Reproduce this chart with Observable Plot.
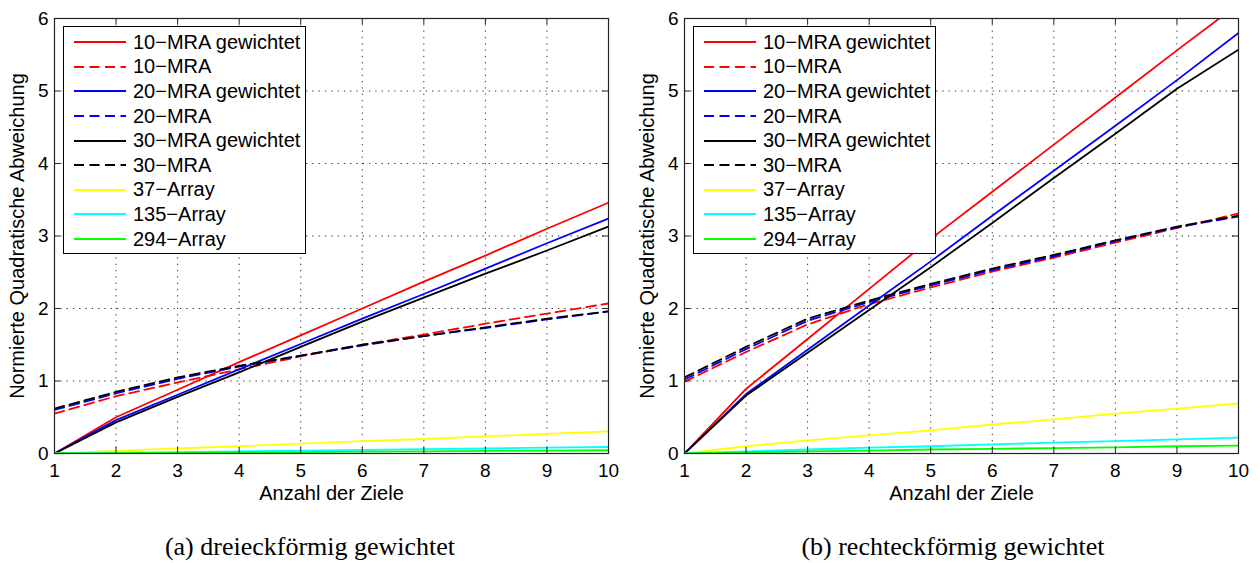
<!DOCTYPE html>
<html>
<head>
<meta charset="utf-8">
<script src="https://cdn.jsdelivr.net/npm/d3@7"></script>
<script src="https://cdn.jsdelivr.net/npm/@observablehq/plot@0.6"></script>
<style>
  html, body { margin: 0; padding: 0; background: #fff; }
  #wrap { position: relative; width: 1260px; height: 563px; overflow: hidden; }
  .panel { position: absolute; top: 0; width: 630px; height: 563px; }
  .legend { position: absolute; background: #fff; border: 1px solid #000; box-sizing: border-box;
            font-family: "Liberation Sans", Arial, sans-serif; font-size: 20px; color: #000; padding-top: 3px; }
  .legend .row { height: 24.6px; display: flex; align-items: center; white-space: nowrap; }
  .legend svg { margin-left: 10px; margin-right: 7px; flex: none; }
  .caption { position: absolute; top: 532px; transform: translateX(-50%); white-space: nowrap;
             font-family: "Liberation Serif", "Times New Roman", serif; font-size: 26px; color: #000; }
</style>
</head>
<body>
<div id="wrap"></div>
<script>
// ---- data ----
const xTicks = [1, 2, 3, 4, 5, 6, 7, 8, 9, 10];
const yTicks = [0, 1, 2, 3, 4, 5, 6];
const seriesNames = ["10−MRA gewichtet", "10−MRA", "20−MRA gewichtet", "20−MRA", "30−MRA gewichtet", "30−MRA", "37−Array", "135−Array", "294−Array"];
const seriesColors = ["#ff0000", "#ff0000", "#0000ff", "#0000ff", "#000000", "#000000", "#ffff00", "#00ffff", "#00ff00"];
const seriesDashed = [false, true, false, true, false, true, false, false, false];
const captions = ["(a)  dreieckförmig gewichtet", "(b)  rechteckförmig gewichtet"];
const xLabel = "Anzahl der Ziele";
const yLabel = "Normierte Quadratische Abweichung";

// (a) dreieckförmig gewichtet
const triMra10w = [0, 0.50, 0.88, 1.26, 1.63, 2.00, 2.37, 2.73, 3.10, 3.46];
const triMra10  = [0.55, 0.79, 0.98, 1.16, 1.34, 1.50, 1.64, 1.79, 1.93, 2.07];
const triMra20w = [0, 0.46, 0.81, 1.16, 1.51, 1.86, 2.20, 2.55, 2.90, 3.24];
const triMra20  = [0.60, 0.83, 1.03, 1.20, 1.35, 1.49, 1.62, 1.73, 1.85, 1.96];
const triMra30w = [0, 0.43, 0.78, 1.12, 1.47, 1.82, 2.15, 2.48, 2.80, 3.13];
const triMra30  = [0.62, 0.85, 1.05, 1.21, 1.35, 1.50, 1.62, 1.74, 1.86, 1.96];
const triArr37  = [0, 0.035, 0.07, 0.10, 0.135, 0.17, 0.20, 0.235, 0.27, 0.305];
const triArr135 = [0, 0.01, 0.02, 0.03, 0.04, 0.05, 0.06, 0.07, 0.08, 0.09];
const triArr294 = [0, 0.005, 0.01, 0.015, 0.02, 0.025, 0.03, 0.035, 0.04, 0.045];

// (b) rechteckförmig gewichtet
const recMra10w = [0, 0.89, 1.58, 2.27, 2.96, 3.61, 4.26, 4.91, 5.56, 6.20];
const recMra10  = [0.99, 1.40, 1.78, 2.06, 2.29, 2.51, 2.70, 2.91, 3.11, 3.31];
const recMra20w = [0, 0.82, 1.43, 2.04, 2.65, 3.28, 3.90, 4.52, 5.15, 5.80];
const recMra20  = [1.02, 1.44, 1.83, 2.09, 2.32, 2.53, 2.72, 2.93, 3.12, 3.27];
const recMra30w = [0, 0.80, 1.39, 1.98, 2.57, 3.18, 3.80, 4.41, 5.03, 5.57];
const recMra30  = [1.05, 1.47, 1.86, 2.11, 2.34, 2.55, 2.74, 2.94, 3.13, 3.28];
const recArr37  = [0, 0.10, 0.18, 0.25, 0.32, 0.40, 0.47, 0.55, 0.62, 0.69];
const recArr135 = [0, 0.03, 0.055, 0.08, 0.10, 0.125, 0.15, 0.17, 0.195, 0.22];
const recArr294 = [0, 0.015, 0.03, 0.04, 0.055, 0.065, 0.075, 0.085, 0.10, 0.11];

const panels = [
  {values: [triMra10w, triMra10, triMra20w, triMra20, triMra30w, triMra30, triArr37, triArr135, triArr294], caption: captions[0], capCenter: 310},
  {values: [recMra10w, recMra10, recMra20w, recMra20, recMra30w, recMra30, recArr37, recArr135, recArr294], caption: captions[1], capCenter: 323}
];

const DASH = "10,5.5";
const TICK_PX = 6;
const FONT = "'Liberation Sans', Arial, sans-serif";

function makeChart(panel) {
  const W = 630, H = 520;
  const mL = 54, mR = 22, mT = 18, mB = 67;
  const yDom = [0, 6], xDom = [1, 10];
  const tY = TICK_PX * (yDom[1] - yDom[0]) / (H - mT - mB);
  const tX = TICK_PX * (xDom[1] - xDom[0]) / (W - mL - mR);
  const marks = [
    Plot.ruleX(xTicks.slice(1, -1), {x: d => d, stroke: "#333", strokeWidth: 1, strokeDasharray: "1.3,5"}),
    Plot.ruleY(yTicks.slice(1, -1), {y: d => d, stroke: "#333", strokeWidth: 1, strokeDasharray: "1.3,5"})
  ];
  seriesNames.forEach((name, i) => {
    const rows = xTicks.map((x, j) => ({x, y: panel.values[i][j]}));
    marks.push(Plot.line(rows, {x: "x", y: "y", stroke: seriesColors[i], strokeWidth: 1.8,
      strokeDasharray: seriesDashed[i] ? DASH : null, clip: true}));
  });
  marks.push(
    Plot.ruleX(xTicks, {x: d => d, y1: yDom[0], y2: yDom[0] + tY, stroke: "#222"}),
    Plot.ruleX(xTicks, {x: d => d, y1: yDom[1] - tY, y2: yDom[1], stroke: "#222"}),
    Plot.ruleY(yTicks, {y: d => d, x1: xDom[0], x2: xDom[0] + tX, stroke: "#222"}),
    Plot.ruleY(yTicks, {y: d => d, x1: xDom[1] - tX, x2: xDom[1], stroke: "#222"}),
    Plot.frame({stroke: "#222", strokeWidth: 1.2}),
    Plot.axisX(xTicks, {tickSize: 0, tickPadding: 10, fontSize: 19, tickFormat: d => String(d), label: null}),
    Plot.axisY(yTicks, {tickSize: 0, tickPadding: 6, fontSize: 19, tickFormat: d => String(d), label: null}),
    Plot.text([xLabel], {text: d => d, frameAnchor: "bottom", lineAnchor: "middle", textAnchor: "middle", dy: 40, fontSize: 20, fill: "#000"}),
    Plot.text([yLabel], {text: d => d, frameAnchor: "left", lineAnchor: "middle", textAnchor: "middle", dx: -37, rotate: -90, fontSize: 20, fill: "#000"})
  );
  return Plot.plot({
    width: W, height: H,
    marginLeft: mL, marginRight: mR, marginTop: mT, marginBottom: mB,
    x: {domain: xDom},
    y: {domain: yDom},
    style: {fontFamily: FONT, fontSize: "20px", color: "#000", background: "#fff", overflow: "visible"},
    marks
  });
}

function makeLegend() {
  const div = document.createElement("div");
  div.className = "legend";
  div.style.left = "63px"; div.style.top = "26px";
  div.style.width = "243px"; div.style.height = "228px";
  seriesNames.forEach((name, i) => {
    const row = document.createElement("div");
    row.className = "row";
    const ns = "http://www.w3.org/2000/svg";
    const svg = document.createElementNS(ns, "svg");
    svg.setAttribute("width", 52); svg.setAttribute("height", 10);
    const ln = document.createElementNS(ns, "line");
    ln.setAttribute("x1", 0); ln.setAttribute("x2", 52);
    ln.setAttribute("y1", 5); ln.setAttribute("y2", 5);
    ln.setAttribute("stroke", seriesColors[i]); ln.setAttribute("stroke-width", 2);
    if (seriesDashed[i]) ln.setAttribute("stroke-dasharray", DASH);
    svg.appendChild(ln);
    row.appendChild(svg);
    const t = document.createElement("span");
    t.textContent = name;
    row.appendChild(t);
    div.appendChild(row);
  });
  return div;
}

const wrap = document.getElementById("wrap");
panels.forEach((panel, k) => {
  const p = document.createElement("div");
  p.className = "panel";
  p.style.left = (k * 630) + "px";
  p.appendChild(makeChart(panel));
  p.appendChild(makeLegend());
  const cap = document.createElement("div");
  cap.className = "caption";
  cap.style.left = panel.capCenter + "px";
  cap.textContent = panel.caption;
  p.appendChild(cap);
  wrap.appendChild(p);
});
</script>
</body>
</html>
